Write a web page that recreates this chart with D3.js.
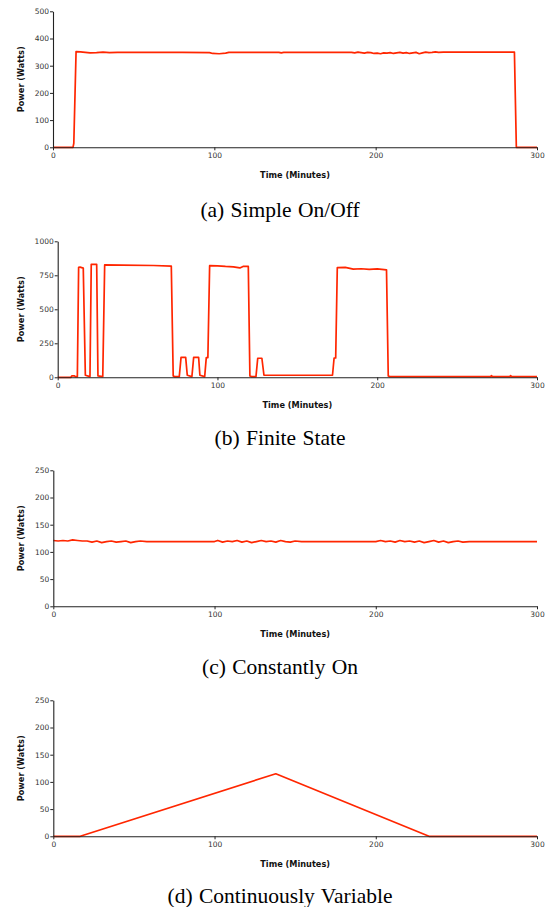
<!DOCTYPE html>
<html>
<head>
<meta charset="utf-8">
<script src="https://cdn.jsdelivr.net/npm/d3@7"></script>
<style>
  body { margin: 0; background: #fff; }
  svg { display: block; }
  .tick text { font-family: "DejaVu Sans", sans-serif; font-size: 7.5px; fill: #333; }
  .axis-title { font-family: "DejaVu Sans", sans-serif; font-size: 8.2px; font-weight: bold; fill: #111; }
  .caption { font-family: "Liberation Serif", serif; font-size: 21.5px; fill: #000; word-spacing: 1px; }
</style>
</head>
<body>
<div id="graf"></div>
<script>
// data
const xTicks = [0, 100, 200, 300]
const captions = ["(a) Simple On/Off", "(b) Finite State", "(c) Constantly On", "(d) Continuously Variable"]

const aYTicks = [0, 100, 200, 300, 400, 500]
const aTime = [
  0, 12.4, 12.9, 14.3, 17,
  20, 23, 27, 31, 35,
  40, 60, 80, 97, 99,
  103, 107, 109, 120, 140,
  141.5, 143, 160, 185, 187,
  189, 191, 193, 195, 197,
  199, 201, 203, 205, 207,
  209, 211, 213, 215, 217,
  219, 221, 223, 225, 227,
  229, 231, 233, 235, 237,
  239, 242, 286, 287.2, 300]
const aPower = [
  0, 0, 15, 352, 351,
  349, 347, 348, 350, 348,
  349, 349, 349, 348, 345,
  344, 346, 349, 349, 349,
  347, 349, 349, 349, 347,
  350, 348, 346, 349, 348,
  345, 346, 344, 347, 346,
  348, 345, 347, 349, 346,
  348, 345, 347, 349, 344,
  347, 350, 348, 349, 351,
  349, 350, 350, 0, 0]

const bYTicks = [0, 250, 500, 750, 1000]
const bTime = [
  0, 8.3, 8.8, 10.5, 11,
  12.3, 13.1, 14, 16, 17.3,
  20.2, 21, 22, 24.4, 25.2,
  28.2, 29.4, 40, 60, 71.1,
  72.3, 73.2, 76.1, 77.2, 80.1,
  81.1, 84, 85.1, 88.2, 89,
  92, 93, 94, 95.1, 100,
  105, 110, 114, 116, 119.3,
  120.3, 121.4, 124.1, 125.2, 127.8,
  129.1, 150, 170.5, 172, 173,
  174, 175, 180, 185, 190,
  195, 200, 205.8, 206.9, 208,
  271, 271.5, 272, 283, 283.5,
  284, 300]
const bPower = [
  0, 0, 10, 10, 5,
  5, 809, 810, 803, 15,
  5, 831, 830, 830, 10,
  5, 826, 825, 822, 818,
  10, 5, 5, 147, 147,
  15, 5, 147, 147, 15,
  5, 145, 145, 821, 820,
  815, 812, 804, 815, 815,
  10, 5, 5, 140, 140,
  15, 15, 15, 15, 142,
  142, 806, 808, 796, 798,
  794, 797, 790, 10, 5,
  5, 12, 5, 5, 12,
  5, 5]

const cdYTicks = [0, 50, 100, 150, 200, 250]
const cTime = [
  0, 3, 6, 9, 12,
  15, 18, 21, 24, 27,
  30, 33, 36, 39, 42,
  45, 48, 51, 54, 58,
  100, 102, 105, 108, 111,
  114, 117, 120, 123, 126,
  129, 132, 135, 138, 141,
  144, 147, 150, 154, 200,
  203, 206, 209, 212, 215,
  218, 221, 224, 227, 230,
  233, 236, 239, 242, 245,
  248, 251, 254, 258, 300]
const cPower = [
  121, 120, 121, 120, 122,
  121, 120, 120, 118, 120,
  117, 119, 120, 118, 119,
  120, 117, 119, 120, 119,
  119, 121, 118, 120, 119,
  121, 118, 120, 117, 119,
  121, 119, 120, 118, 121,
  119, 118, 120, 119, 119,
  121, 119, 120, 118, 121,
  119, 120, 118, 120, 117,
  119, 121, 118, 120, 117,
  119, 120, 118, 119, 119]

const dTime = [0, 16.7, 138, 233, 300]
const dPower = [0, 0, 115, 0, 0]

// layout of the four panels (page pixels)
const panels = [
  { time: aTime, power: aPower, yTicks: aYTicks, left: 53, top: 11.3, caption: captions[0], capY: 216.7 },
  { time: bTime, power: bPower, yTicks: bYTicks, left: 57.7, top: 241.3, caption: captions[1], capY: 445 },
  { time: cTime, power: cPower, yTicks: cdYTicks, left: 53.3, top: 470.3, caption: captions[2], capY: 674 },
  { time: dTime, power: dPower, yTicks: cdYTicks, left: 53.3, top: 700.3, caption: captions[3], capY: 902.7 },
]
const right = 537
const alto = 136

const svg = d3.select("#graf")
  .append("svg")
  .attr("width", 548)
  .attr("height", 907)

const drawPanel = (p) => {
  const x = d3.scaleLinear().domain([0, 300]).range([p.left, right])
  const y = d3.scaleLinear().domain([0, d3.max(p.yTicks)]).range([p.top + alto, p.top])

  const g = svg.append("g")

  const line = d3.line()
    .x((d, i) => x(p.time[i]))
    .y((d) => y(d))

  g.append("path")
    .datum(p.power)
    .attr("d", line)
    .attr("fill", "none")
    .attr("stroke", "#ff2600")
    .attr("stroke-width", 1.7)
    .attr("stroke-linejoin", "round")

  const xAxis = g.append("g")
    .attr("transform", `translate(0, ${p.top + alto})`)
    .call(d3.axisBottom(x).tickValues(xTicks).tickSize(3).tickSizeOuter(0).tickPadding(2).tickFormat(d3.format("d")))
  const yAxis = g.append("g")
    .attr("transform", `translate(${p.left}, 0)`)
    .call(d3.axisLeft(y).tickValues(p.yTicks).tickSize(3).tickSizeOuter(0).tickPadding(1).tickFormat(d3.format("d")))

  ;[xAxis, yAxis].forEach((a) => {
    a.select(".domain").attr("stroke", "#222").attr("stroke-width", 1.1)
    a.selectAll(".tick line").attr("stroke", "#222")
    a.selectAll(".tick text").attr("fill", "#333")
  })

  g.append("text")
    .attr("class", "axis-title")
    .attr("x", (p.left + right) / 2)
    .attr("y", p.top + alto + 27.5)
    .attr("dy", "0.35em")
    .attr("text-anchor", "middle")
    .text("Time (Minutes)")

  g.append("text")
    .attr("class", "axis-title")
    .attr("transform", `translate(21, ${p.top + alto / 2}) rotate(-90)`)
    .attr("dy", "0.35em")
    .attr("text-anchor", "middle")
    .text("Power (Watts)")

  g.append("text")
    .attr("class", "caption")
    .attr("x", 280)
    .attr("y", p.capY)
    .attr("text-anchor", "middle")
    .text(p.caption)
}

panels.forEach(drawPanel)
</script>
</body>
</html>
